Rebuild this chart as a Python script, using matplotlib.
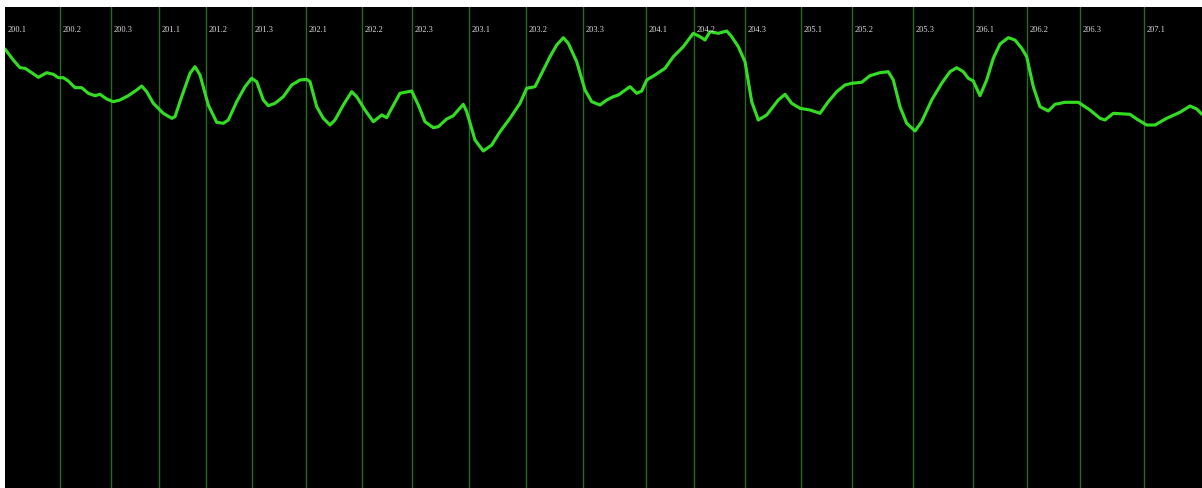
import matplotlib
matplotlib.use("Agg")
import matplotlib.pyplot as plt

# Trace samples: sample index and amplitude
trace_x = [0, 8.3, 15, 20, 26.7, 33.3, 41.7, 48.3, 53.3, 58.3,
           63.3, 70, 76.7, 83.3, 90, 95, 101.7, 108.3, 115, 123.3,
           131.7, 136.7, 141.7, 148.3, 158.3, 166.7, 170, 176.7, 185, 190,
           195, 203.3, 211.7, 218.3, 223.3, 231.7, 240, 246.7, 251.7, 258.3,
           263.3, 270, 278.3, 286.7, 295, 301.7, 305, 311.7, 318.3, 325,
           330, 338.3, 346.7, 351.7, 360, 368.3, 376.7, 381.7, 386.7, 395,
           406.7, 413.3, 420, 428.3, 433.3, 441.7, 448.3, 458.3, 461.7, 470,
           478.3, 486.7, 495, 505, 515, 521.7, 530, 536.7, 545, 551.7,
           558.3, 563.3, 571.7, 580, 586.7, 595, 601.7, 608.3, 613.3, 625,
           631.7, 636.7, 641.7, 650, 660, 668.3, 678.3, 688.3, 695, 700,
           705, 713.3, 721.7, 726.7, 733.3, 740, 746.7, 753.3, 761.7, 773.3,
           780, 786.7, 795, 805, 815, 823.3, 831.7, 840, 846.7, 856.7,
           865, 875, 883.3, 888.3, 895, 901.7, 910, 916.7, 926.7, 936.7,
           945, 951.7, 958.3, 963.3, 968.3, 975, 981.7, 988.3, 995, 1003.3,
           1010, 1016.7, 1021.7, 1028.3, 1035, 1043.3, 1050, 1060, 1073.3, 1085,
           1095, 1100, 1108.3, 1125, 1131.7, 1141.7, 1150, 1161.7, 1175, 1185,
           1191.7, 1197]
trace_y = [439, 428, 420.3, 419.7, 415.3, 410.7, 415.3, 413.7, 410.3, 410.3,
           407, 400.3, 400.3, 394.7, 392.3, 393.7, 389, 386.3, 388, 392.3,
           398, 402, 396.3, 384.7, 374.7, 369.7, 371.3, 391.3, 414.7, 421.3,
           413, 383, 365.7, 364.7, 368, 386.3, 401.3, 409.7, 406.3, 388,
           382.3, 384.7, 391.3, 403, 408, 408.7, 406.3, 381.3, 369.7, 363,
           368, 383, 396.3, 391.3, 378, 366.3, 373, 370.3, 379.7, 394.7,
           397, 383, 366.3, 360.3, 361.3, 369, 372.3, 383.7, 376.3, 348,
           337, 343, 356.3, 369.7, 384.7, 399.7, 401.3, 414.7, 431.3, 443,
           450.3, 444.7, 426.3, 398, 386.3, 383, 388, 391.3, 393, 401.3,
           394.7, 397, 408, 413, 419.7, 431.3, 441.3, 454.7, 451.3, 448,
           456.3, 454.7, 457, 451.3, 441.3, 426.3, 386.3, 368, 373, 388,
           393.7, 384.7, 379.7, 378, 374.7, 386.3, 396.3, 403, 404.7, 405.7,
           412.3, 415.3, 416.3, 408, 381.3, 364.7, 357, 366.3, 388, 404.7,
           416.3, 420.3, 416.3, 409.7, 407, 392.3, 408, 429.7, 444, 450.3,
           448, 439.7, 431.3, 401.3, 381.3, 377, 383.7, 385.7, 385.7, 378,
           369.7, 368, 374.7, 373.7, 369, 363, 363, 369.7, 375.7, 382,
           379, 373.7]

# Section markers along the trace
marker_pos = [0, 55, 105.7, 154, 201, 247, 301, 357, 407, 464, 521, 578, 641, 689,
              740, 796, 847, 908, 968, 1022, 1075, 1139]
marker_labels = ["200.1", "200.2", "200.3", "201.1", "201.2", "201.3", "202.1", "202.2",
                 "202.3", "203.1", "203.2", "203.3", "204.1", "204.2", "204.3", "205.1",
                 "205.2", "205.3", "206.1", "206.2", "206.3", "207.1"]

W, H = 1202, 488
fig = plt.figure(figsize=(W / 100, H / 100), dpi=100, facecolor="white")
ax = fig.add_axes([5 / W, 0, 1197 / W, 481 / H])
ax.set_facecolor("black")
ax.set_xlim(0, 1197)
ax.set_ylim(0, 481)
for s in ax.spines.values():
    s.set_visible(False)
ax.set_xticks([])
ax.set_yticks([])

for pos, lab in zip(marker_pos, marker_labels):
    if pos > 0:
        ax.axvline(pos, color="#2a6a22", lw=1.0, zorder=1)
    ax.text(pos + 3, 458, lab, color="#dcdcdc", fontsize=6.0,
            family="Liberation Serif", ha="left", va="center", zorder=3)

ax.plot(trace_x, trace_y, color="#33dd22", lw=2.25, solid_joinstyle="round",
        solid_capstyle="round", zorder=2)

fig.savefig("out.png", dpi=100, facecolor="white")
